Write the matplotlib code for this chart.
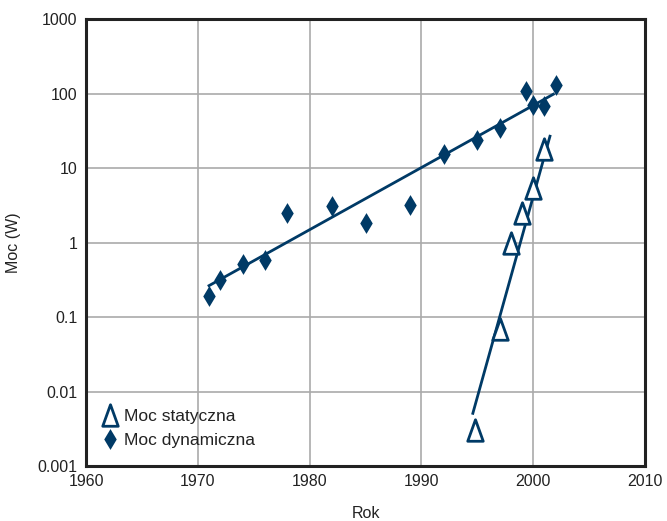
import matplotlib
matplotlib.use("Agg")
import matplotlib.pyplot as plt
from matplotlib.path import Path
import numpy as np

plt.rcParams['font.family'] = ['Liberation Sans', 'DejaVu Sans']

# Data
dyn_years = [1971, 1972, 1974, 1976, 1978, 1982, 1985, 1989, 1992, 1995, 1997, 1999.4, 2000, 2001, 2002]
dyn_power = [0.19, 0.32, 0.51, 0.59, 2.5, 3.1, 1.85, 3.2, 15.5, 24, 35, 108, 72, 68, 133]
stat_years = [1994.8, 1997, 1998, 1999, 2000, 2001]
stat_power = [0.003, 0.069, 1.0, 2.5, 5.4, 18]
dyn_trend_years = [1971, 2001.8]
dyn_trend_power = [0.265, 99]
stat_trend_years = [1994.6, 2001.5]
stat_trend_power = [0.0051, 27]
x_ticks = [1960, 1970, 1980, 1990, 2000, 2010]
y_ticks = [0.001, 0.01, 0.1, 1, 10, 100, 1000]
y_ticklabels = ['0.001', '0.01', '0.1', '1', '10', '100', '1000']

color = '#003a66'

tri = Path([(-0.36, -0.5), (0.36, -0.5), (0.0, 0.5), (-0.36, -0.5)],
           [Path.MOVETO, Path.LINETO, Path.LINETO, Path.CLOSEPOLY])
dia = Path([(0, -0.5), (0.3, 0), (0, 0.5), (-0.3, 0), (0, -0.5)],
           [Path.MOVETO, Path.LINETO, Path.LINETO, Path.LINETO, Path.CLOSEPOLY])

fig = plt.figure(figsize=(6.67, 5.21), dpi=100)
ax = fig.add_axes([0.129, 0.1056, 0.838, 0.857])
ax.set_yscale('log')
ax.set_xlim(1960, 2010)
ax.set_ylim(0.001, 1000)

ax.plot(dyn_trend_years, dyn_trend_power, color=color, lw=2, zorder=3)
ax.plot(stat_trend_years, stat_trend_power, color=color, lw=2, zorder=3)
ax.plot(stat_years, stat_power, linestyle='none', marker=tri, markersize=15.5,
        markerfacecolor='white', markeredgecolor=color, markeredgewidth=2,
        label='Moc statyczna', zorder=4)
ax.plot(dyn_years, dyn_power, linestyle='none', marker=dia, markersize=15,
        color=color, markeredgewidth=0, label='Moc dynamiczna', zorder=4)

ax.set_xticks(x_ticks)
ax.set_xticklabels([str(t) for t in x_ticks])
ax.set_yticks(y_ticks)
ax.set_yticklabels(y_ticklabels)
ax.yaxis.set_minor_locator(matplotlib.ticker.NullLocator())
ax.tick_params(length=0, labelsize=11.5, colors='#222222', pad=6)
ax.grid(True, color='#aaaaaa', lw=1.2)
ax.set_axisbelow(True)
for s in ax.spines.values():
    s.set_linewidth(2.2)
    s.set_color('#222222')

ax.set_xlabel('Rok', fontsize=11.5, color='#222222', labelpad=12)
ax.set_ylabel('Moc (W)', fontsize=11.5, color='#222222', labelpad=12)

leg = ax.legend(loc='lower left', bbox_to_anchor=(0.0, 0.01), frameon=False,
                fontsize=12.5, handletextpad=0.2, labelspacing=0.5,
                handlelength=1.2, borderaxespad=0.4)
for t in leg.get_texts():
    t.set_color('#222222')

fig.savefig('out.png', dpi=100)
